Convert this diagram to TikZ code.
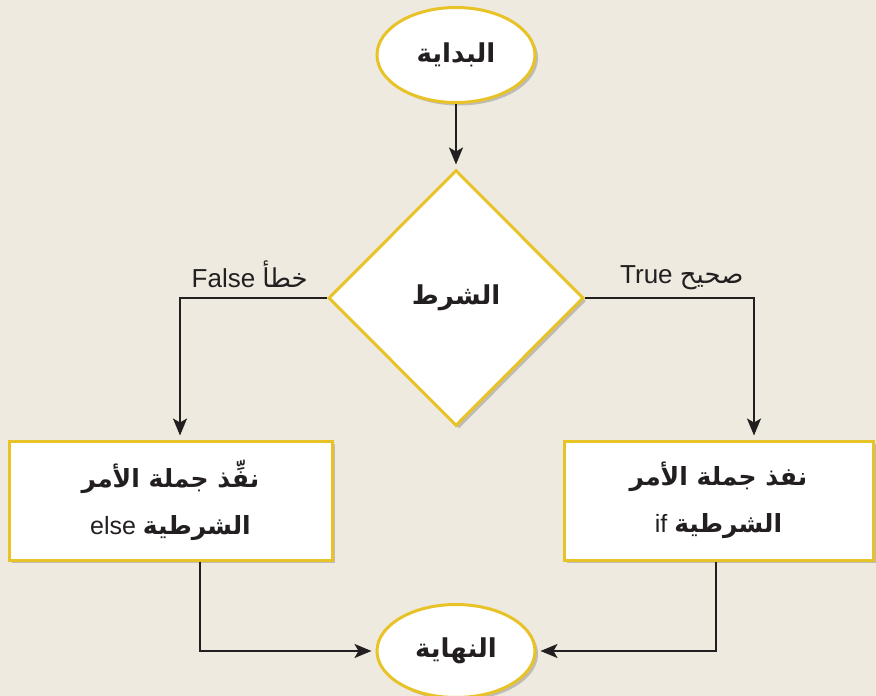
\documentclass[tikz,border=0pt]{standalone}
\usepackage{fontspec}
\setmainfont{Liberation Sans}
\newfontfamily\arfont[Script=Arabic]{DejaVu Sans}
\TeXXeTstate=1
\usetikzlibrary{shapes.geometric,shadows,arrows.meta}
\definecolor{bg}{HTML}{EFEAE0}
\definecolor{gold}{HTML}{E8C327}
\definecolor{ink}{HTML}{231F20}
\newcommand\artext[1]{{\arfont\bfseries\beginR #1\endR}}
\newcommand\arplain[1]{{\arfont\beginR #1\endR}}
\tikzset{
  shad/.style={drop shadow={shadow xshift=3pt,shadow yshift=-3pt,opacity=0.35,fill=black!60}},
  term/.style={ellipse,draw=gold,line width=3pt,fill=white,shad,minimum width=158pt,minimum height=95pt,inner sep=0pt,font=\fontsize{26}{30}\selectfont,text=ink},
  decide/.style={diamond,draw=gold,line width=3pt,fill=white,shad,minimum width=255pt,minimum height=256pt,inner sep=0pt,font=\fontsize{26}{30}\selectfont,text=ink},
  proc/.style={rectangle,draw=gold,line width=3pt,fill=white,shad,minimum height=119pt,inner sep=0pt,align=center,font=\fontsize{25}{47}\selectfont,text=ink},
  conn/.style={draw=ink,line width=2pt,shorten >=4pt,-{Stealth[length=17pt,width=14pt,inset=4pt]}},
  lbl/.style={font=\fontsize{26}{30}\selectfont,text=ink,inner sep=0pt}
}
\begin{document}
\begin{tikzpicture}[x=1pt,y=-1pt]
\fill[bg] (0,0) rectangle (876,696);
\useasboundingbox (0,0) rectangle (876,696);
\node[term] (start) at (456,55) {\artext{البداية}};
\node[decide] (cond) at (456,298) {\artext{الشرط}};
\node[proc,minimum width=323pt] (lrect) at (170.5,500.5) {\artext{نفِّذ جملة الأمر}\\ else \artext{الشرطية}};
\node[proc,minimum width=309pt] (rrect) at (718.5,500.5) {\artext{نفذ جملة الأمر}\\ if \artext{الشرطية}};
\node[term,minimum height=93pt] (end) at (456,651) {\artext{النهاية}};
\coordinate (fx) at (180,0);
\coordinate (tx) at (754,0);
\coordinate (bl) at (200,0);
\coordinate (br) at (716,0);
\node[lbl,anchor=base east] (flbl) at (308,287) {False \arplain{خطأ}};
\node[lbl,anchor=base west] (tlbl) at (620,283) {True \arplain{صحيح}};
\draw[conn] (start.south) -- (cond.north);
\draw[conn] (cond.west) -| (lrect.north -| fx);
\draw[conn] (cond.east) -| (rrect.north -| tx);
\draw[conn] (lrect.south -| bl) |- (end.west);
\draw[conn] (rrect.south -| br) |- (end.east);
\end{tikzpicture}
\end{document}
